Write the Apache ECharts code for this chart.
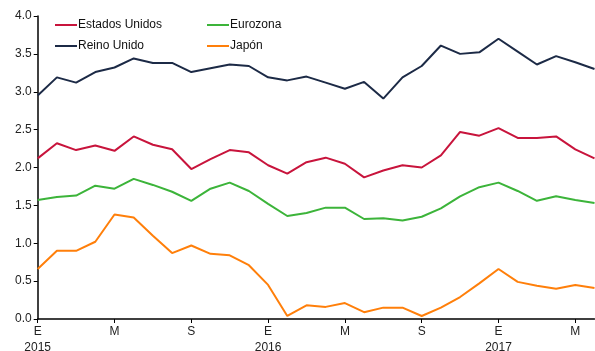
<!DOCTYPE html>
<html>
<head>
<meta charset="utf-8">
<script src="https://cdn.jsdelivr.net/npm/echarts@6/dist/echarts.min.js"></script>
<style>
  html, body { margin: 0; padding: 0; background: #fff; }
  #chart { width: 595px; height: 351px; }
</style>
</head>
<body>
<div id="chart"></div>
<script>
// Monthly observations, January 2015 to June 2017
const monthLetters = ['E', 'F', 'M', 'A', 'M', 'J', 'J', 'A', 'S', 'O', 'N', 'D'];
const years = [2015, 2016, 2017];
const months = [];
years.forEach(function (y) {
  monthLetters.forEach(function (m, k) {
    if (y === 2017 && k > 5) return;
    months.push({ letter: m, year: y, first: k === 0 });
  });
});

const estadosUnidos = [2.12, 2.32, 2.23, 2.29, 2.22, 2.41, 2.30, 2.24, 1.98, 2.11, 2.23, 2.20,
  2.03, 1.92, 2.07, 2.13, 2.05, 1.87, 1.96, 2.03, 2.00, 2.16, 2.47, 2.42, 2.52, 2.39, 2.39, 2.41, 2.24, 2.12];
const eurozona = [1.57, 1.61, 1.63, 1.76, 1.72, 1.85, 1.77, 1.68, 1.56, 1.72, 1.80, 1.69,
  1.52, 1.36, 1.40, 1.47, 1.47, 1.32, 1.33, 1.30, 1.35, 1.46, 1.62, 1.74, 1.80, 1.69, 1.56, 1.62, 1.57, 1.53];
const reinoUnido = [2.95, 3.19, 3.12, 3.26, 3.32, 3.44, 3.38, 3.38, 3.26, 3.31, 3.36, 3.34,
  3.19, 3.15, 3.20, 3.12, 3.04, 3.13, 2.91, 3.19, 3.34, 3.61, 3.50, 3.52, 3.70, 3.53, 3.36, 3.47, 3.39, 3.30];
const japon = [0.66, 0.90, 0.90, 1.02, 1.38, 1.34, 1.10, 0.87, 0.97, 0.86, 0.84, 0.71,
  0.45, 0.04, 0.18, 0.16, 0.21, 0.09, 0.15, 0.15, 0.04, 0.15, 0.29, 0.47, 0.66, 0.49, 0.44, 0.40, 0.45, 0.41];

const yTicks = [0, 0.5, 1.0, 1.5, 2.0, 2.5, 3.0, 3.5, 4.0];

const FONT = '"Liberation Sans", Arial, sans-serif';
const colors = {
  'Estados Unidos': '#c8143c',
  'Eurozona': '#3cb43a',
  'Reino Unido': '#1c2a46',
  'Japón': '#ff7f0a'
};

function line(name, data) {
  return {
    name: name,
    type: 'line',
    data: data,
    symbol: 'none',
    smooth: false,
    lineStyle: { width: 2, color: colors[name] },
    itemStyle: { color: colors[name] },
    emphasis: { disabled: true }
  };
}

const legendBase = {
  orient: 'vertical',
  top: 14,
  itemWidth: 22,
  itemHeight: 12,
  itemGap: 9,
  icon: 'path://M0,5 L22,5 L22,7 L0,7 Z',
  selectedMode: false,
  textStyle: { fontFamily: FONT, fontSize: 12, color: '#111', padding: [0, 0, 0, -4] }
};

const chart = echarts.init(document.getElementById('chart'), null, { renderer: 'canvas' });
chart.setOption({
  animation: false,
  grid: { left: 37.7, right: 0.5, top: 16, bottom: 32, containLabel: false, outerBoundsMode: 'none' },
  legend: [
    Object.assign({}, legendBase, { left: 50, data: ['Estados Unidos', 'Reino Unido'] }),
    Object.assign({}, legendBase, { left: 202, data: ['Eurozona', 'Japón'] })
  ],
  xAxis: {
    type: 'category',
    boundaryGap: false,
    data: months.map(function (m, i) { return String(i); }),
    axisLine: { lineStyle: { color: '#000', width: 1.5 } },
    axisTick: { show: true, interval: 3, length: 4, lineStyle: { color: '#000' } },
    axisLabel: {
      interval: 3,
      fontFamily: FONT,
      fontSize: 12,
      color: '#222',
      lineHeight: 16,
      margin: 5,
      formatter: function (v) {
        const m = months[+v];
        return m.first ? m.letter + '\n' + m.year : m.letter;
      }
    },
    splitLine: { show: false }
  },
  yAxis: {
    type: 'value',
    min: yTicks[0],
    max: yTicks[yTicks.length - 1],
    interval: 0.5,
    axisLine: { show: true, lineStyle: { color: '#000', width: 1.5 } },
    axisTick: { show: true, length: 4, lineStyle: { color: '#000' } },
    axisLabel: {
      fontFamily: FONT,
      fontSize: 12,
      color: '#222',
      margin: 6,
      formatter: function (v) { return v.toFixed(1); }
    },
    splitLine: { show: false }
  },
  series: [
    line('Estados Unidos', estadosUnidos),
    line('Eurozona', eurozona),
    line('Reino Unido', reinoUnido),
    line('Japón', japon)
  ]
});
</script>
</body>
</html>
